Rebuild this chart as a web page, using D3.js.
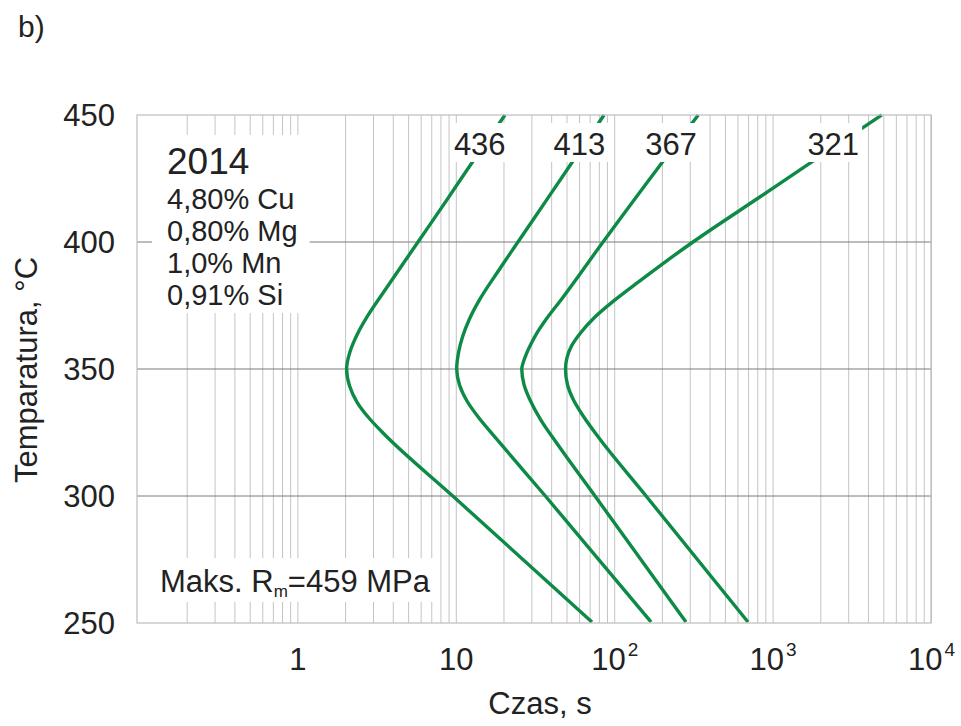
<!DOCTYPE html>
<html>
<head>
<meta charset="utf-8">
<script src="https://cdn.jsdelivr.net/npm/d3@7"></script>
<style>
  html, body { margin: 0; padding: 0; background: #fff; }
  svg { display: block; font-family: "Liberation Sans", Arial, sans-serif; }
</style>
</head>
<body>
<svg id="chart" width="961" height="726"></svg>
<script>
// TTT C-curves for alloy 2014: [time in s, temperature in °C]
const curveNames = ["436", "413", "367", "321"];
const curve436 = [[20.3,450],[12.9,432.3],[8.7,416.5],[5.73,400],[3.55,381.1],[2.73,370.5],[2.36,363.4],[2.13,356.7],[2.03,350],[2.12,343.3],[2.36,337],[2.81,330.7],[3.5,324.4],[9.5,300],[71.9,250.4]];
const curve413 = [[85.6,450],[56.2,433.1],[37.1,416.5],[24.5,400],[18.6,389],[14.0,377.2],[12.03,369.3],[10.94,362.6],[10.32,356.3],[10.06,350],[10.48,343.7],[11.68,337.4],[13.91,330.7],[17.55,323.2],[36.5,300],[169.5,250.4]];
const curve367 = [[337,450],[204.8,432.3],[84.4,400],[45.8,377.2],[37.4,370.1],[32.6,364.6],[29.6,359.8],[27.5,355.5],[26.4,352.4],[25.9,350],[26.8,343.7],[29.2,337.8],[34.2,329.9],[43.0,320.9],[75.1,300],[281.9,250.4]];
const curve321 = [[4849,450],[1834,432.3],[842,418.1],[312,400],[207.8,392.1],[141.4,384.3],[100.4,377.2],[74.0,370.1],[60.8,364.2],[53.4,359.1],[49.9,354.3],[48.9,350],[50.4,343.7],[54.95,337.8],[64.5,330.7],[77.9,323.6],[157.8,300],[694,250.4]];
const curves = [curve436, curve413, curve367, curve321];

// Axis ticks
const yTicks = [250, 300, 350, 400, 450];
const yGrid = [300, 350, 400];
const xTickValues = [1, 10, 100, 1000, 10000];
const xTickBase = ["1", "10", "10", "10", "10"];
const xTickExp = ["", "", "2", "3", "4"];

// Alloy description
const alloyName = "2014";
const composition = ["4,80% Cu", "0,80% Mg", "1,0% Mn", "0,91% Si"];

const svg = d3.select("#chart");
const ink = "#222";
const green = "#0c8a46";

const x = d3.scaleLog().domain([0.1, 10000]).range([139.5, 931.5]);
const y = d3.scaleLinear().domain([250, 450]).range([623, 115]);
const plotLeft = 137, plotRight = 931, plotTop = y(450), plotBottom = y(250);

// Minor log grid (vertical)
const vGrid = [];
[0.1, 1, 10, 100, 1000].forEach(d => {
  for (let k = 1; k <= 9; k++) {
    const v = d * k;
    if (v > 0.1) vGrid.push(v);
  }
});
vGrid.push(10000);

const gGrid = svg.append("g");
gGrid.selectAll("line.v").data(vGrid).join("line")
  .attr("class", "v")
  .attr("x1", d => x(d)).attr("x2", d => x(d))
  .attr("y1", plotTop).attr("y2", plotBottom)
  .attr("stroke", "#c4c4c4").attr("stroke-width", 1);
gGrid.selectAll("line.h").data(yGrid).join("line")
  .attr("class", "h")
  .attr("x1", plotLeft).attr("x2", plotRight)
  .attr("y1", d => y(d)).attr("y2", d => y(d))
  .attr("stroke", "#7a7a7a").attr("stroke-width", 1);

// Curves (temperature falls monotonically along each curve)
const line = d3.line()
  .x(d => x(d[0])).y(d => y(d[1]))
  .curve(d3.curveMonotoneY);
svg.append("g").selectAll("path").data(curves).join("path")
  .attr("d", line)
  .attr("fill", "none")
  .attr("stroke", green)
  .attr("stroke-width", 3.4)
  .attr("stroke-linejoin", "round");

// Frame
svg.append("rect")
  .attr("x", plotLeft).attr("y", plotTop)
  .attr("width", plotRight - plotLeft).attr("height", plotBottom - plotTop)
  .attr("fill", "none").attr("stroke", "#bdbdbd").attr("stroke-width", 1.2);

// White box behind a text element
function backdrop(node, padL, padR, padT, padB) {
  const b = node.getBBox();
  d3.select(node.parentNode).insert("rect", () => node)
    .attr("x", b.x - padL).attr("y", b.y - padT)
    .attr("width", b.width + padL + padR).attr("height", b.height + padT + padB)
    .attr("fill", "#fff");
}

// Curve labels, placed where each curve reaches the label height
const labelTemp = 438.5;
function timeAt(curve, T) {
  for (let i = 0; i < curve.length - 1; i++) {
    const a = curve[i], b = curve[i + 1];
    if ((a[1] - T) * (b[1] - T) <= 0) {
      const f = (a[1] - T) / (a[1] - b[1]);
      return Math.pow(10, Math.log10(a[0]) + f * (Math.log10(b[0]) - Math.log10(a[0])));
    }
  }
  return curve[0][0];
}
const gLab = svg.append("g");
curves.forEach((c, i) => {
  const g = gLab.append("g");
  const t = g.append("text")
    .attr("x", x(timeAt(c, labelTemp)) - 5)
    .attr("y", 155)
    .attr("text-anchor", "middle")
    .attr("font-size", 31)
    .attr("fill", ink)
    .text(curveNames[i]);
  backdrop(t.node(), 3, 3, 4, 0);
});

// Alloy block
const gAlloy = svg.append("g");
const alloyText = gAlloy.append("text").attr("fill", ink);
alloyText.append("tspan").attr("x", 167).attr("y", 174).attr("font-size", 37).text(alloyName);
composition.forEach((s, i) => {
  alloyText.append("tspan").attr("x", 167).attr("y", 209 + i * 32).attr("font-size", 29).text(s);
});
backdrop(alloyText.node(), 15, 12, 6, 2);

// Max strength note
const gNote = svg.append("g");
const note = gNote.append("text").attr("x", 160).attr("y", 592).attr("font-size", 31).attr("fill", ink);
note.append("tspan").text("Maks. R");
note.append("tspan").attr("font-size", 17).attr("dy", 5).text("m");
note.append("tspan").attr("dy", -5).text("=459 MPa");
backdrop(note.node(), 6, 5, 6, 1);

// Y axis labels
svg.append("g").selectAll("text").data(yTicks).join("text")
  .attr("x", 115).attr("y", d => y(d)).attr("dy", "0.35em")
  .attr("text-anchor", "end").attr("font-size", 31).attr("fill", ink)
  .text(d => d);

// X axis labels
const xl = svg.append("g").selectAll("text").data(xTickValues).join("text")
  .attr("x", d => x(d)).attr("y", 670)
  .attr("text-anchor", "middle").attr("font-size", 31).attr("fill", ink);
xl.append("tspan").text((d, i) => xTickBase[i]);
xl.filter((d, i) => xTickExp[i] !== "").append("tspan")
  .attr("font-size", 19).attr("dy", -14).attr("dx", 2)
  .text(d => xTickExp[xTickValues.indexOf(d)]);

// Axis titles
svg.append("text")
  .attr("x", 540).attr("y", 714)
  .attr("text-anchor", "middle").attr("font-size", 31).attr("fill", ink)
  .text("Czas, s");
svg.append("text")
  .attr("transform", "translate(37,370) rotate(-90)")
  .attr("text-anchor", "middle").attr("font-size", 31).attr("fill", ink)
  .text("Temparatura, °C");

// Panel tag
svg.append("text")
  .attr("x", 18).attr("y", 37)
  .attr("font-size", 30).attr("fill", ink)
  .text("b)");
</script>
</body>
</html>
